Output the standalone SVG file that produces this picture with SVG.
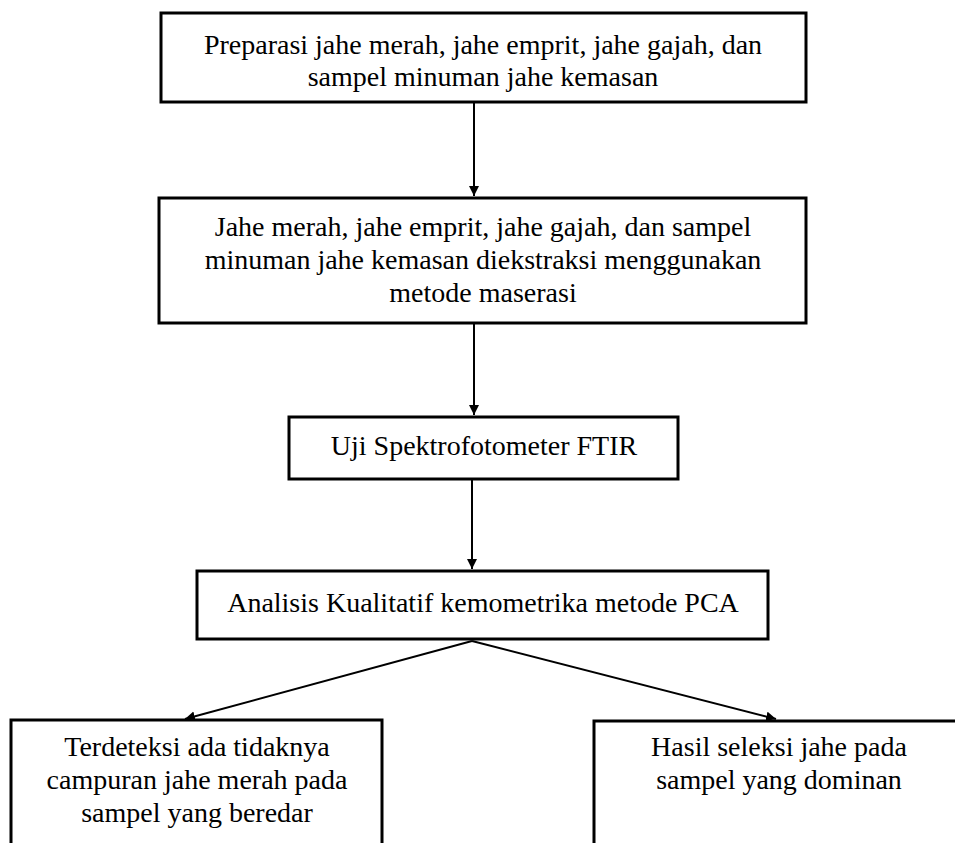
<svg xmlns="http://www.w3.org/2000/svg" width="955" height="843" viewBox="0 0 955 843">
<style>
.box{fill:#fff;stroke:#000;stroke-width:3}
.t{font-family:"Liberation Serif","Times New Roman",serif;font-size:28px;fill:#000;text-anchor:middle}
.c{stroke:#000;stroke-width:2;fill:none}
</style>
<defs>
<marker id="ah" markerWidth="12" markerHeight="12" refX="10" refY="5" orient="auto" markerUnits="userSpaceOnUse">
<path d="M0,0 L10,5 L0,10 Z" fill="#000"/>
</marker>
</defs>
<rect width="955" height="843" fill="#fff"/>
<g id="connectors">
<line class="c" x1="474" y1="102" x2="474" y2="196" marker-end="url(#ah)"/>
<line class="c" x1="474" y1="323" x2="474" y2="415" marker-end="url(#ah)"/>
<line class="c" x1="472" y1="479" x2="472" y2="569" marker-end="url(#ah)"/>
<line class="c" x1="472" y1="641" x2="185" y2="719" marker-end="url(#ah)"/>
<line class="c" x1="472" y1="641" x2="776" y2="719" marker-end="url(#ah)"/>
</g>
<g id="n1">
<rect class="box" x="161" y="13" width="645" height="89"/>
<text class="t" x="483" y="54">Preparasi jahe merah, jahe emprit, jahe gajah, dan</text>
<text class="t" x="483" y="86">sampel minuman jahe kemasan</text>
</g>
<g id="n2">
<rect class="box" x="159" y="198" width="647" height="125"/>
<text class="t" x="483" y="236">Jahe merah, jahe emprit, jahe gajah, dan sampel</text>
<text class="t" x="483" y="269">minuman jahe kemasan diekstraksi menggunakan</text>
<text class="t" x="483" y="302">metode maserasi</text>
</g>
<g id="n3">
<rect class="box" x="289" y="417" width="389" height="62"/>
<text class="t" x="484" y="455">Uji Spektrofotometer FTIR</text>
</g>
<g id="n4">
<rect class="box" x="197" y="571" width="571" height="68"/>
<text class="t" x="483" y="612">Analisis Kualitatif kemometrika metode PCA</text>
</g>
<g id="n5">
<rect class="box" x="11" y="720" width="371" height="140"/>
<text class="t" x="197" y="756">Terdeteksi ada tidaknya</text>
<text class="t" x="197" y="789">campuran jahe merah pada</text>
<text class="t" x="197" y="822">sampel yang beredar</text>
</g>
<g id="n6">
<rect class="box" x="594" y="721" width="380" height="140"/>
<text class="t" x="779" y="756">Hasil seleksi jahe pada</text>
<text class="t" x="779" y="789">sampel yang dominan</text>
</g>
</svg>
